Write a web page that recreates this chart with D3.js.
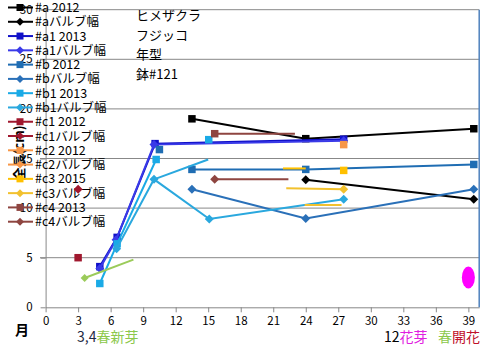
<!DOCTYPE html>
<html><head><meta charset="utf-8">
<script src="https://cdn.jsdelivr.net/npm/d3@7"></script>
<style>body{margin:0;background:#fff}svg{display:block}text{font-family:"Noto Sans CJK JP","Noto Sans",sans-serif}</style>
</head><body><svg id="c" width="496" height="348"></svg>
<script>
// ---- data ----
const seriesNames = ["#a 2012","#aバルブ幅","#a1 2013","#a1バルブ幅","#b 2012","#bバルブ幅","#b1 2013","#b1バルブ幅",
  "#c1 2012","#c1バルブ幅","#c2 2012","#c2バルブ幅","#c3 2015","#c3バルブ幅","#c4 2013","#c4バルブ幅"];
// months (x) and length (y); null breaks the line
const a2012   = [[13.5,19.0],[24,17.0],[39.5,18.0]];
const aBulb   = [[24,12.85],[39.5,10.9]];
const a1_2013 = [[5,4.1],[6.6,7.05],[10.1,16.5],[27.5,16.95]];
const a1Bulb  = [[5,3.9],[6.5,6.8],[10,16.4],[27.5,16.8]];
const b2012   = [[10.5,15.9],null,[13.5,13.9],[24,13.9],[39.5,14.4]];
const bBulb   = [[13.5,11.9],[24,8.95],[39.5,11.9]];
const b1_2013 = [[5,2.4],[6.6,6.4],[10.2,14.9],null,[15.05,16.9]];
const b1Bulb  = [[6.55,5.9],[10,12.9],[15.1,8.9],[27.5,10.9]];
const c1_2012 = [[3,5.0]];
const c1Bulb  = [[3,11.9]];
const c2_2012 = [[27.5,16.4]];
const c2Bulb  = [];
const c3_2015 = [[27.5,13.8]];
const c3Bulb  = [[27.5,11.9]];
const c4_2013 = [[15.6,17.5]];
const c4Bulb  = [[15.6,12.9]];
const seriesData = [a2012,aBulb,a1_2013,a1Bulb,b2012,bBulb,b1_2013,b1Bulb,c1_2012,c1Bulb,c2_2012,c2Bulb,c3_2015,c3Bulb,c4_2013,c4Bulb];
// extra marker-less segments: [series index, x1, y1, x2, y2]
const guideLines = [[14,15.6,17.5,23.0,17.5],[15,15.6,12.9,22.4,12.9],[12,21.9,14.0,24.0,14.0],
  [13,22.2,12.0,27.5,11.9],[13,23.9,10.3,27.3,10.3],[7,10,12.9,15,14.9]];
const xTicks = [0,3,6,9,12,15,18,21,24,27,30,33,36,39];
const yTicks = [0,5,10,15,20,25,30];
const flowerPoint = [39, 3];
const sproutArrow = [[3.6,2.95],[8.1,4.8]];
const infoLines = ["ヒメザクラ","フジッコ","年型","鉢#121"];

// ---- styles ----
const colors = ["#000000","#000000","#1010C8","#3A3AE8","#1F6DB3","#2A70B8","#1AAAE6","#2AA8DE",
  "#A0182E","#A0182E","#F79646","#F79646","#FFC000","#F2C12E","#8E4540","#8E4540"];
const shapes = seriesNames.map((n,i)=> i%2===0 ? "square" : "diamond");

const svg = d3.select("#c");
const x = d3.scaleLinear().domain([0,40]).range([45.6,479.2]);
const y = d3.scaleLinear().domain([0,30]).range([307.3,9.7]);

// grid
svg.append("g").selectAll("line").data(yTicks.filter(d=>d>0)).join("line")
  .attr("x1",40).attr("x2",x(40)).attr("y1",d=>y(d)).attr("y2",d=>y(d))
  .attr("stroke","#888").attr("stroke-width",1);
// axes
const xa = svg.append("g").attr("transform",`translate(0,${y(0)})`)
  .call(d3.axisBottom(x).tickValues(xTicks).tickSize(5).tickSizeOuter(0));
xa.select(".domain").attr("stroke","#888");
xa.selectAll(".tick line").attr("stroke","#888");
xa.selectAll("text").attr("font-size",11.5).attr("fill","#000").attr("dy","0.9em").attr("y",7);
const ya = svg.append("g").attr("transform",`translate(${x(0)},0)`)
  .call(d3.axisLeft(y).tickValues(yTicks).tickSize(5).tickSizeOuter(0).tickPadding(8));
ya.select(".domain").attr("stroke","#888");
ya.selectAll(".tick line").attr("stroke","#888");
ya.selectAll("text").attr("font-size",11.5).attr("fill","#000");
// right border
svg.append("line").attr("x1",x(40)).attr("x2",x(40)).attr("y1",y(30)).attr("y2",y(0))
  .attr("stroke","#4F81BD").attr("stroke-width",1.5);

// axis titles
svg.append("text").attr("transform","translate(24,153) rotate(-90)").attr("text-anchor","middle")
  .attr("font-size",13).attr("font-weight","bold").text("全長(cm)");
svg.append("text").attr("x",22).attr("y",335).attr("text-anchor","middle")
  .attr("font-size",14).attr("font-weight","bold").text("月");

// info text
svg.append("g").selectAll("text").data(infoLines).join("text")
  .attr("x",136).attr("y",(d,i)=>20+i*19.5).attr("font-size",13).text(d=>d);

// legend
const lg = svg.append("g");
seriesNames.forEach((n,i)=>{
  const ly = 7.5 + i*14.28;
  lg.append("line").attr("x1",8).attr("x2",33).attr("y1",ly).attr("y2",ly)
    .attr("stroke",colors[i]).attr("stroke-width",2);
  lg.append("path").attr("transform",`translate(20,${ly})`)
    .attr("d", shapes[i]==="square" ? d3.symbol(d3.symbolSquare,49)() : "M0,-4L4,0L0,4L-4,0Z")
    .attr("fill",colors[i]);
  lg.append("text").attr("x",35).attr("y",ly).attr("dy","0.36em").attr("font-size",12.5).text(n);
});

// series
const line = d3.line().defined(d=>d!==null).x(d=>x(d[0])).y(d=>y(d[1]));
const plot = svg.append("g");
seriesData.forEach((data,i)=>{
  plot.append("path").datum(data).attr("d",line).attr("fill","none")
    .attr("stroke",colors[i]).attr("stroke-width",2);
  guideLines.filter(g=>g[0]===i).forEach(g=>{
    plot.append("line").attr("x1",x(g[1])).attr("y1",y(g[2])).attr("x2",x(g[3])).attr("y2",y(g[4]))
      .attr("stroke",colors[i]).attr("stroke-width",2);
  });
  plot.selectAll(null).data(data.filter(d=>d!==null)).join("path")
    .attr("transform",d=>`translate(${x(d[0])},${y(d[1])})`)
    .attr("d", shapes[i]==="square" ? d3.symbol(d3.symbolSquare,56)() : "M0,-4.5L4.5,0L0,4.5L-4.5,0Z")
    .attr("fill",colors[i]);
});

// sprout arrow (green)
svg.append("line").attr("x1",x(sproutArrow[0][0])).attr("y1",y(sproutArrow[0][1]))
  .attr("x2",x(sproutArrow[1][0])).attr("y2",y(sproutArrow[1][1])).attr("stroke","#9BCB5A").attr("stroke-width",2);
svg.append("path").attr("transform",`translate(${x(sproutArrow[0][0])},${y(sproutArrow[0][1])})`)
  .attr("d","M0,-4L4,0L0,4L-4,0Z").attr("fill","#9BCB5A");

// flower marker
svg.append("ellipse").attr("cx",x(flowerPoint[0])).attr("cy",y(flowerPoint[1]))
  .attr("rx",6.5).attr("ry",11).attr("fill","#FF00FF");

// bottom annotations
const bt = svg.append("text").attr("y",342).attr("font-size",14);
bt.append("tspan").attr("x",77).attr("fill","#1F2A44").text("3,4");
bt.append("tspan").attr("fill","#8CC84B").text("春新芽");
const bt2 = svg.append("text").attr("y",342).attr("font-size",14);
bt2.append("tspan").attr("x",384).attr("fill","#000").text("12");
bt2.append("tspan").attr("fill","#E020E0").text("花芽");
bt2.append("tspan").attr("x",438).attr("fill","#8CC84B").text("春");
bt2.append("tspan").attr("fill","#C0102A").text("開花");
</script></body></html>
